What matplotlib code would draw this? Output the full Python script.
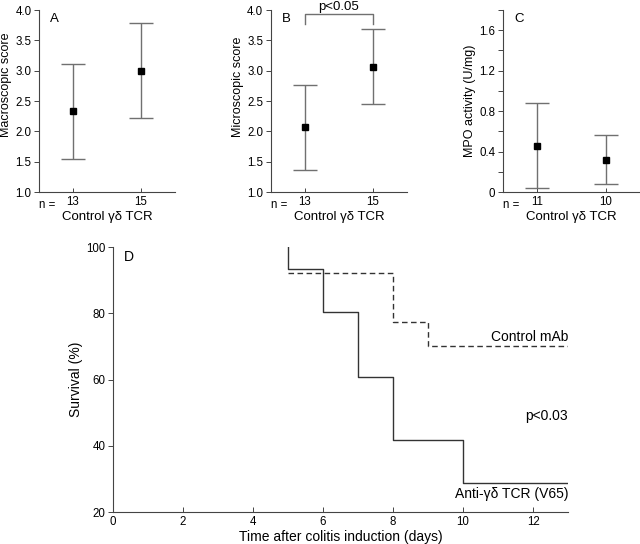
import matplotlib
matplotlib.use("Agg")
import matplotlib.pyplot as plt
from matplotlib.ticker import MultipleLocator

plt.rcParams['font.family'] = ['Liberation Sans', 'DejaVu Sans']

# panels A-C: mean with error range, two groups
groups = ["Control", "γδ TCR"]
n_a = ["13", "15"]
macro_mean = [2.33, 3.00]
macro_low = [1.55, 2.22]
macro_high = [3.11, 3.78]

n_b = ["13", "15"]
micro_mean = [2.07, 3.06]
micro_low = [1.37, 2.45]
micro_high = [2.77, 3.69]

n_c = ["11", "10"]
mpo_mean = [0.46, 0.32]
mpo_low = [0.04, 0.08]
mpo_high = [0.88, 0.56]

# panel D: survival step curves
anti_days = [5, 5, 6, 7, 8, 10, 13]
anti_surv = [100, 93.3, 80.5, 60.9, 41.7, 28.8, 28.8]
ctrl_days = [5, 8, 9, 13]
ctrl_surv = [92.3, 77.5, 70.0, 70.0]

fig = plt.figure(figsize=(6.4, 5.44), dpi=100)

grey = '#707070'
tick_fs = 8.3
lab_fs = 9.5


def score_panel(rect, mean, low, high, ns, ylabel, ylab_pos, letter, ylim, major,
                minor=None, fmt=None):
    ax = fig.add_axes(rect)
    x = [1, 2]
    yerr = [[m - l for m, l in zip(mean, low)], [h - m for m, h in zip(mean, high)]]
    ax.errorbar(x, mean, yerr=yerr, fmt='none', ecolor=grey, elinewidth=1,
                capsize=8.5, capthick=1)
    ax.plot(x, mean, 's', color='black', markersize=5)
    ax.set_xlim(0.5, 2.5)
    ax.set_ylim(*ylim)
    ax.spines['top'].set_visible(False)
    ax.spines['right'].set_visible(False)
    for s in ('left', 'bottom'):
        ax.spines[s].set_color('#444444')
        ax.spines[s].set_linewidth(0.8)
    ax.yaxis.set_major_locator(MultipleLocator(major))
    if minor:
        ax.yaxis.set_minor_locator(MultipleLocator(minor))
        ax.tick_params(axis='y', which='minor', length=3.5, width=0.7, color='#444444')
    if fmt:
        ax.yaxis.set_major_formatter(fmt)
    ax.tick_params(axis='y', direction='out', length=3.5, width=0.7, labelsize=tick_fs,
                   pad=2, color='#444444')
    ax.set_xticks(x)
    ax.set_xticklabels(ns)
    ax.tick_params(axis='x', direction='in', length=3, width=0.7, labelsize=tick_fs,
                   pad=3, color='#444444')
    ax.text(0.0, -0.04, "n = ", transform=ax.transAxes, ha='left', va='top',
            fontsize=tick_fs)
    ax.set_xlabel("Control γδ TCR", fontsize=lab_fs, labelpad=2)
    ax.set_ylabel(ylabel, fontsize=9)
    ax.yaxis.set_label_coords(-0.2, ylab_pos)
    ax.text(0.08, 0.985, letter, transform=ax.transAxes, ha='left', va='top',
            fontsize=lab_fs)
    return ax


score_panel([0.061, 0.647, 0.2125, 0.3346], macro_mean, macro_low, macro_high, n_a,
            "Macroscopic score", 0.59, "A", (1.0, 4.0), 0.5,
            fmt=matplotlib.ticker.FormatStrFormatter('%.1f'))
axb = score_panel([0.4234, 0.647, 0.2125, 0.3346], micro_mean, micro_low, micro_high, n_b,
                  "Microscopic score", 0.58, "B", (1.0, 4.0), 0.5,
                  fmt=matplotlib.ticker.FormatStrFormatter('%.1f'))
axb.plot([1, 1, 2, 2], [3.77, 3.93, 3.93, 3.77], color=grey, lw=1, clip_on=False)
axb.text(1.5, 3.95, "p<0.05", ha='center', va='bottom', fontsize=lab_fs, clip_on=False)

score_panel([0.786, 0.647, 0.214, 0.3346], mpo_mean, mpo_low, mpo_high, n_c,
            "MPO activity (U/mg)", 0.5, "C", (0, 1.8), 0.4, minor=0.2,
            fmt=matplotlib.ticker.FuncFormatter(lambda v, p: "0" if v == 0 else f"{v:.1f}"))

# panel D
axd = fig.add_axes([0.1766, 0.0588, 0.711, 0.487])
axd.step(anti_days, anti_surv, where='post', color='#333333', lw=1)
axd.step(ctrl_days, ctrl_surv, where='post', color='#333333', lw=1, linestyle=(0, (4, 2.5)))
axd.set_xlim(0, 13)
axd.set_ylim(20, 100)
axd.spines['top'].set_visible(False)
axd.spines['right'].set_visible(False)
for s in ('left', 'bottom'):
    axd.spines[s].set_color('#444444')
    axd.spines[s].set_linewidth(0.8)
axd.set_xticks([0, 2, 4, 6, 8, 10, 12])
axd.set_yticks([20, 40, 60, 80, 100])
axd.tick_params(axis='x', direction='in', length=3.5, width=0.7, labelsize=tick_fs,
                pad=3, color='#444444')
axd.tick_params(axis='y', direction='out', length=3.5, width=0.7, labelsize=tick_fs,
                pad=2, color='#444444')
axd.set_xlabel("Time after colitis induction (days)", fontsize=10, labelpad=1)
axd.set_ylabel("Survival (%)", fontsize=10, labelpad=2)
axd.text(0.024, 0.99, "D", transform=axd.transAxes, ha='left', va='top', fontsize=10)
axd.text(13, 72.9, "Control mAb", ha='right', va='center', fontsize=10)
axd.text(13, 48.9, "p<0.03", ha='right', va='center', fontsize=10)
axd.text(13, 25.5, "Anti-γδ TCR (V65)", ha='right', va='center', fontsize=10)

fig.savefig("out.png", dpi=100)
